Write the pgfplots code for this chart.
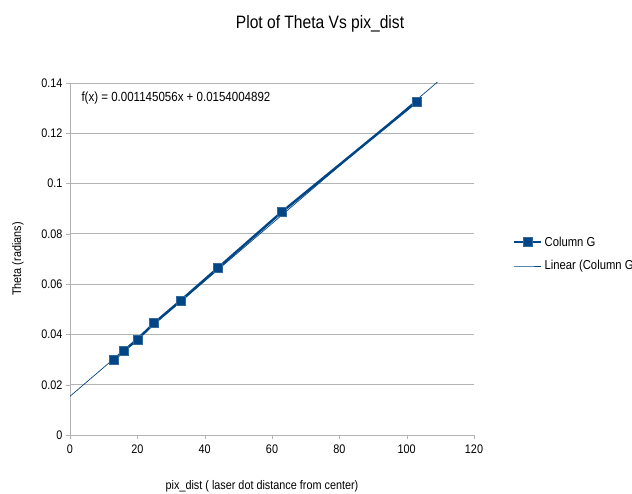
\documentclass[border=0pt]{standalone}
\usepackage{pgfplots}
\pgfplotsset{compat=1.18}
\usepackage{fontspec}
\setmainfont{Liberation Sans}[FakeStretch=0.87]
\definecolor{lobl}{HTML}{004586}
\definecolor{grd}{HTML}{B3B3B3}
\begin{document}
\begin{tikzpicture}
\path[use as bounding box] (-70bp,-59bp) rectangle (562bp,435bp);
\begin{axis}[
  at={(0,0)}, anchor=south west,
  scale only axis, width=404bp, height=352bp,
  xmin=0, xmax=120, ymin=0, ymax=0.14,
  xtick={0,20,...,120}, ytick={0,0.02,...,0.14},
  yticklabels={0,0.02,0.04,0.06,0.08,0.1,0.12,0.14},
  axis x line*=bottom, axis y line*=left,
  axis line style={grd},
  ymajorgrids, grid style={grd, line width=0.8pt},
  tick style={grd}, tick align=outside, major tick length=4bp,
  ticklabel style={font=\fontsize{12.5}{14}\selectfont},
  xticklabel style={yshift=-2bp},
  /pgf/number format/assume math mode=true,
  scaled y ticks=false,
  clip=true,
  legend style={at={(1.0965,0.514)}, anchor=west, draw=none, fill=none,
     inner sep=0pt, font=\fontsize{13}{14}\selectfont, row sep=9bp,
     legend cell align=left,
     /tikz/every even column/.style={column sep=3bp}},
  legend image code/.code={\draw[mark repeat=2,mark phase=2,#1] plot coordinates {(0bp,0bp) (13.5bp,0bp) (27bp,0bp)};},
]
\addplot[lobl, line width=2.5pt, mark=square*, mark size=4.5bp,
  mark options={line width=0.4pt, draw=lobl!80!white, fill=lobl}]
  coordinates {(13,0.0299) (16,0.0335) (20,0.0380) (25,0.0445)
               (33,0.0536) (44,0.0665) (63,0.0888) (103,0.1326)};
\addlegendentry{Column G}
\addplot[lobl, line width=0.7pt] coordinates {(0,0.0154004892) (110,0.1413566492)};
\addlegendentry{Linear (Column G}
\end{axis}
\node[anchor=west, font=\fontsize{13.3}{15}\selectfont] at (8bp,337bp) {f(x) = 0.001145056x + 0.0154004892};
\node[font=\fontsize{18}{20}\selectfont] at (250bp,411bp) {Plot of Theta Vs pix\_dist};
\node[font=\fontsize{12.5}{14}\selectfont] at (192bp,-51bp) {pix\_dist ( laser dot distance from center)};
\node[rotate=90, font=\fontsize{12.5}{14}\selectfont] at (-52bp,176bp) {Theta (radians)};
\end{tikzpicture}
\end{document}
